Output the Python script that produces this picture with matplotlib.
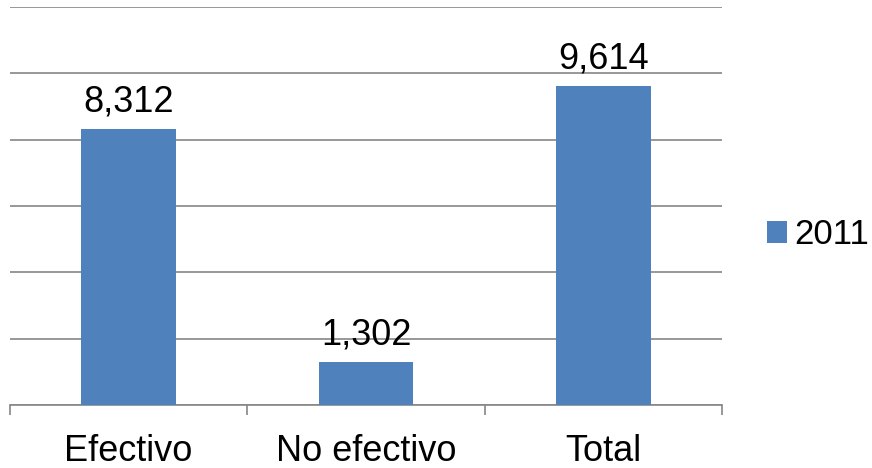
import matplotlib.pyplot as plt
import numpy as np

categories = ['Efectivo', 'No efectivo', 'Total']
values_2011 = [8312, 1302, 9614]
series_name = '2011'

plt.rcParams['font.family'] = ['Liberation Sans', 'DejaVu Sans']

bar_color = '#4F81BD'
grid_color = '#868686'

fig = plt.figure(figsize=(8.72, 4.68), dpi=100)
ax = fig.add_axes([10 / 872, 63 / 468, 712 / 872, 398 / 468])

x = np.arange(len(categories))
bars = ax.bar(x, values_2011, width=0.4, color=bar_color, label=series_name, zorder=3)

for xi, v in zip(x, values_2011):
    ax.annotate(f'{v:,}', (xi, v), xytext=(0, 7), textcoords='offset points',
                ha='center', va='bottom', fontsize=26)

ax.set_xlim(-0.5, len(categories) - 0.5)
ax.set_ylim(0, 12000)
ax.set_yticks(np.arange(0, 12001, 2000))
ax.yaxis.grid(True, color=grid_color, linewidth=1.2, zorder=0)
ax.tick_params(axis='y', length=0, labelleft=False)

# category labels at centres, tick marks at boundaries
ax.set_xticks(x)
ax.set_xticklabels(categories, fontsize=26)
ax.set_xticks(np.arange(-0.5, len(categories)), minor=True)
ax.tick_params(axis='x', which='major', length=0, pad=21)
ax.tick_params(axis='x', which='minor', length=7, width=1.2, color=grid_color)

for side in ['top', 'right', 'left']:
    ax.spines[side].set_visible(False)
ax.spines['bottom'].set_color(grid_color)
ax.spines['bottom'].set_linewidth(1.2)

fig.legend(loc='center left', bbox_to_anchor=(767 / 872, 1 - 235 / 468), frameon=False,
           fontsize=25, handlelength=0.58, handleheight=0.58, handletextpad=0.2,
           borderaxespad=0, borderpad=0)

fig.savefig('out.png', dpi=100)
